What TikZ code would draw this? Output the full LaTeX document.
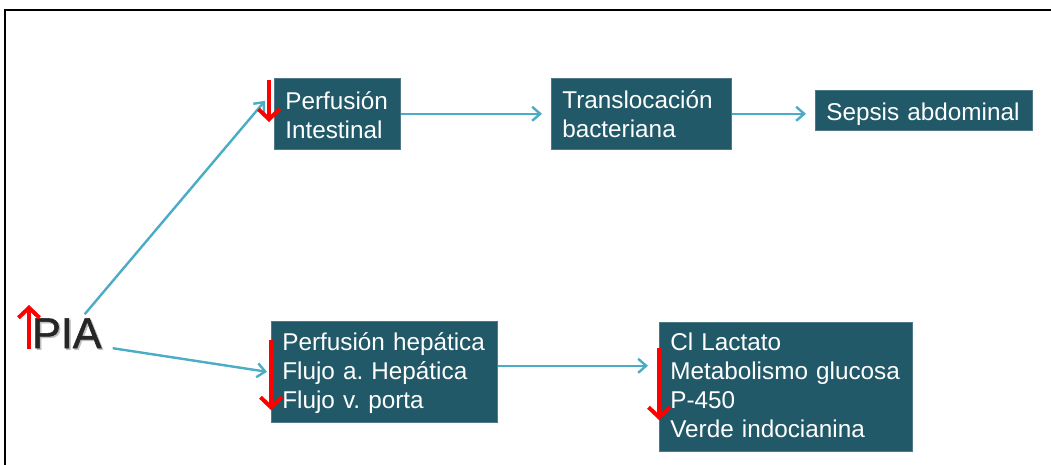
\documentclass[tikz,border=0pt]{standalone}
\usepackage{fontspec}
\setmainfont{Liberation Sans}
\newfontfamily\piafont[FakeBold=1.2]{Liberation Sans}
\usetikzlibrary{arrows.meta}
\definecolor{boxfill}{HTML}{215968}
\definecolor{conn}{HTML}{4BACC6}
\frenchspacing
\tikzset{
  box/.style={anchor=north west, fill=boxfill, draw=boxfill!80!white, line width=0.6pt, text=white,
    font=\fontsize{24.3}{29}\selectfont, align=left, inner xsep=11pt, inner ysep=0pt},
  conarrow/.style={draw=conn, line width=2.4pt, -{Straight Barb[length=8pt,width=14pt]}},
  redarrow/.style={draw=red, line width=4pt, -{Straight Barb[length=10pt,width=21pt]}},
  frameline/.style={draw=black, line width=2pt},
  piastyle/.style={anchor=base west, inner sep=0pt, font=\piafont\fontsize{43}{50}\selectfont}
}
\begin{document}
\begin{tikzpicture}[x=1pt,y=-1pt]
\useasboundingbox (0,0) rectangle (1051,465);
\fill[white] (0,0) rectangle (1051,465);
\draw[frameline] (1051,10) -- (5,10) -- (5,465);
% boxes
\node[box, text width=104pt, text height=31pt, text depth=40pt] (b1) at (274,78) {Perfusión\\Intestinal};
\node[box, text width=158pt, text height=30pt, text depth=41pt] (b2) at (551,78) {Translocación\\bacteriana};
\node[box, text width=195pt, text height=30pt, text depth=10pt] (b5) at (815,90) {Sepsis abdominal};
\node[box, text width=204pt, text height=29pt, text depth=72pt] (b3) at (271,321) {Perfusión hepática\\Flujo a. Hepática\\Flujo v. porta};
\node[box, text width=231pt, text height=28pt, text depth=101pt] (b4) at (659,322) {Cl Lactato\\Metabolismo glucosa\\P-450\\Verde indocianina};
\node[piastyle, text=black!25] at (33.5,349.5) {PIA};
\node[piastyle, text=black!85] (pia) at (32,348) {PIA};
% connectors
\draw[conarrow] ([xshift=-17pt,yshift=4pt]pia.north east) -- ([xshift=-9pt,yshift=13pt]b1.west);
\draw[conarrow] ([xshift=11pt]pia.south east) -- ([xshift=-4pt]b3.west);
\draw[conarrow] (b1.east) -- ([xshift=-9pt]b2.west);
\draw[conarrow] (b2.east) -- ([xshift=-9pt]b5.west |- b2.east);
\draw[conarrow] ([yshift=6pt]b3.east) coordinate (a3) -- ([xshift=-11pt]b4.west |- a3);
% red arrows
\draw[redarrow] (29,349) -- (29,305);
\draw[redarrow] (269,80) -- (269,122);
\draw[redarrow] (271,340) -- (271,410);
\draw[redarrow] (659,348) -- (659,420);
\end{tikzpicture}
\end{document}
